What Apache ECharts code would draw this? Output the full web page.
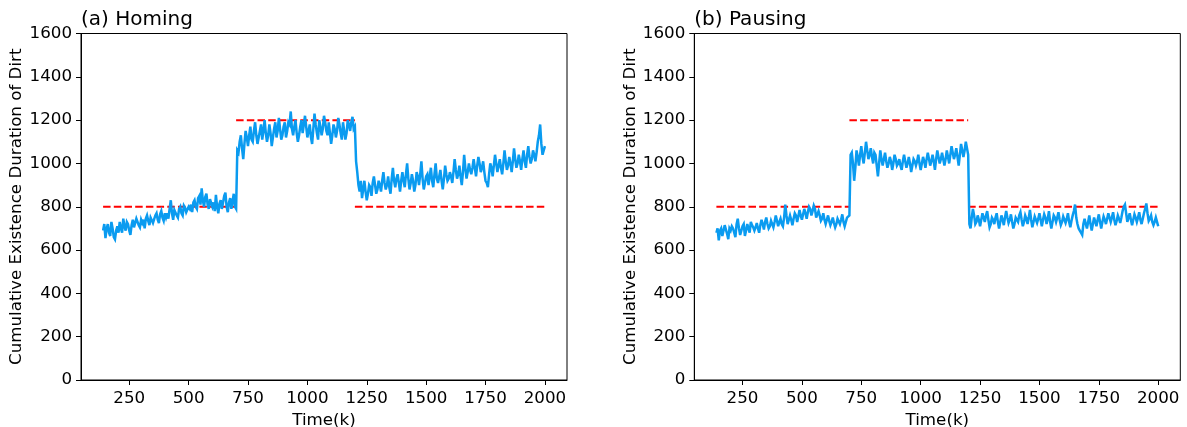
<!DOCTYPE html>
<html>
<head>
<meta charset="utf-8">
<script src="https://cdn.jsdelivr.net/npm/echarts@6/dist/echarts.min.js"></script>
<style>
html,body{margin:0;padding:0;background:#fff;}
#chart{width:1187px;height:427px;}
</style>
</head>
<body>
<div id="chart"></div>
<script>
// ---- data ----
const panelTitles = ['(a) Homing', '(b) Pausing'];
const xTickValues = [250, 500, 750, 1000, 1250, 1500, 1750, 2000];
const yTicks = [0, 200, 400, 600, 800, 1000, 1200, 1400, 1600];
const xName = 'Time(k)';
const yName = 'Cumulative Existence Duration of Dirt';
// sampling grid of the time axis: 140k ... 2000k every 5k
const timeStart = 140, timeStep = 5;

const homing = [
  690,720,655,700,720,680,665,730,700,660,650,690,710,
  680,730,700,680,745,710,690,730,720,690,670,715,740,705,700,745,750,715,705,740,
  725,740,700,745,760,735,715,750,750,725,720,760,770,740,725,765,780,750,735,770,
  750,770,745,790,830,770,740,785,790,760,750,790,800,770,760,805,795,775,770,800,
  790,810,775,820,830,800,790,840,850,810,885,830,800,845,860,810,790,835,840,800,
  820,780,855,800,770,815,830,790,790,850,865,800,775,820,840,790,790,860,800,790,
  1060,1050,1100,1130,1070,1020,1090,1150,1120,1080,1130,1170,1110,1100,1150,1190,1130,1090,1120,1150,
  1180,1110,1150,1200,1140,1100,1130,1180,1140,1080,1120,1160,1190,1120,1150,1210,1160,1110,1130,1170,
  1190,1120,1150,1190,1180,1240,1160,1130,1170,1200,1140,1100,1130,1170,1200,1140,1180,1220,1170,1120,
  1150,1180,1120,1090,1160,1230,1180,1140,1110,1200,1170,1130,1160,1220,1190,1150,1130,1190,1140,1090,
  1130,1180,1160,1120,1150,1210,1180,1140,1110,1190,1150,1110,1140,1200,1180,1150,1190,1215,1160,1170,
  1010,960,900,870,920,840,880,920,870,830,860,900,890,850,910,940,900,860,880,920,
  900,870,920,960,910,880,900,940,890,860,930,980,920,890,930,950,910,870,920,960,
  920,890,950,1000,930,880,910,950,920,870,900,960,940,900,950,1010,930,880,910,940,
  950,900,940,980,920,890,950,1000,930,910,940,970,920,880,930,990,950,920,930,960,
  940,910,960,1020,970,930,950,990,940,900,960,1040,980,930,960,1000,970,950,980,1020,
  980,940,990,1030,1000,960,980,1010,960,920,910,890,950,1000,980,940,990,1040,1000,960,
  990,1020,980,950,1000,1060,1010,970,990,1030,1000,960,1010,1070,1020,980,1000,1040,1010,970,
  1020,1060,1010,980,1040,1080,1030,1000,1020,1060,1040,1010,1050,1100,1130,1180,1090,1040,1060,1080
];

const pausing = [
  680,700,645,690,700,665,660,715,710,675,650,700,690,
  710,700,680,660,720,745,700,670,690,710,720,665,690,720,700,680,730,715,705,690,
  705,725,700,680,715,740,720,695,730,750,720,700,710,735,740,705,730,760,735,710,
  730,745,720,710,750,810,760,720,740,760,740,715,745,770,760,730,755,785,760,740,
  765,790,770,745,775,800,790,760,780,805,790,750,765,780,760,735,745,770,740,720,
  740,760,735,715,730,750,725,705,720,745,740,720,740,765,730,710,730,750,745,760,
  1040,1050,1000,920,980,1060,1030,990,1040,1080,1030,1000,1050,1100,1060,1020,1040,1070,1030,1000,
  1050,1040,990,940,1000,1060,1020,990,1020,1050,1010,980,1000,1030,1010,970,1000,1040,1020,990,
  1000,1020,990,970,1010,1040,1010,980,1000,1030,1000,960,990,1020,1010,990,1010,1040,1000,970,
  1000,1030,1010,980,1020,1050,1020,990,1010,1040,1010,970,1020,1060,1030,1000,1020,1050,1020,990,
  1020,1060,1030,1000,1040,1080,1050,1020,1040,1070,1030,990,1040,1090,1060,1030,1060,1100,1070,1040,
  720,700,750,790,760,720,730,760,740,710,740,770,750,730,760,780,740,705,720,750,
  740,720,750,770,730,700,730,760,740,715,750,780,750,725,740,765,730,700,720,750,
  750,730,760,775,740,710,730,760,745,720,750,785,740,705,730,755,750,725,745,770,
  740,710,740,765,750,720,745,780,730,700,730,760,750,730,750,775,740,715,730,755,
  740,725,745,770,730,705,735,760,780,810,750,720,700,690,680,670,720,745,720,700,
  730,760,720,690,720,750,730,710,740,765,730,700,730,755,740,720,745,770,750,730,
  750,775,740,715,735,760,745,725,750,780,800,810,770,730,750,770,740,715,740,765,
  750,730,750,775,740,720,745,770,790,815,770,735,745,760,730,715,730,750,730,710
];

// reference levels: [from time, to time, level]
const refLevels = [[140, 700, 800], [700, 1200, 1200], [1200, 2000, 800]];

// ---- build chart ----
const panels = [homing, pausing];
const FONT = 'DejaVu Sans';
const lefts = [81, 694.3];
const gw = 486, gtop = 33.5, gh = 346.5;

const option = {
  animation: false,
  backgroundColor: '#fff',
  textStyle: {fontFamily: FONT, color: '#000'},
  title: panelTitles.map((t, i) => ({
    text: t, left: lefts[i], top: 10, padding: 0,
    textStyle: {fontFamily: FONT, fontSize: 20, fontWeight: 'normal', color: '#000'}
  })),
  grid: lefts.map(l => ({
    left: l, top: gtop, width: gw, height: gh,
    outerBoundsMode: 'none', containLabel: false,
    show: true, borderColor: '#000', borderWidth: 1, backgroundColor: 'transparent'
  })),
  xAxis: lefts.map((_, i) => ({
    type: 'value', gridIndex: i, min: 47, max: 2093,
    name: xName, nameLocation: 'middle', nameGap: 28,
    nameTextStyle: {fontFamily: FONT, fontSize: 16.7, color: '#000'},
    axisLine: {show: true, onZero: false, lineStyle: {color: '#000', width: 1}},
    axisTick: {show: true, inside: false, length: 5, customValues: xTickValues, lineStyle: {color: '#000', width: 1}},
    axisLabel: {show: true, margin: 10, customValues: xTickValues, formatter: v => String(v),
      fontFamily: FONT, fontSize: 16.7, color: '#000'},
    splitLine: {show: false}
  })),
  yAxis: lefts.map((_, i) => ({
    type: 'value', gridIndex: i, min: yTicks[0], max: yTicks[yTicks.length - 1], interval: 200,
    name: yName, nameLocation: 'middle', nameGap: 47, nameRotate: 90,
    nameTextStyle: {fontFamily: FONT, fontSize: 16.7, color: '#000'},
    axisLine: {show: true, onZero: false, lineStyle: {color: '#000', width: 1}},
    axisTick: {show: true, inside: false, length: 5, lineStyle: {color: '#000', width: 1}},
    axisLabel: {show: true, margin: 9, formatter: v => String(v),
      fontFamily: FONT, fontSize: 16.7, color: '#000'},
    splitLine: {show: false}
  })),
  series: []
};

panels.forEach((vals, p) => {
  refLevels.forEach(r => {
    option.series.push({
      type: 'line', xAxisIndex: p, yAxisIndex: p, symbol: 'none', z: 2,
      data: [[r[0], r[2]], [r[1], r[2]]],
      lineStyle: {color: '#ff0000', width: 2, type: [7.5, 3.2]},
      silent: true
    });
  });
  option.series.push({
    type: 'line', xAxisIndex: p, yAxisIndex: p, symbol: 'none', z: 3, sampling: null,
    data: vals.map((v, i) => [timeStart + timeStep * i, v]),
    lineStyle: {color: '#0a9bf0', width: 2.5, join: 'miter', miterLimit: 4},
    silent: true
  });
});

const chart = echarts.init(document.getElementById('chart'), null, {renderer: 'canvas'});
chart.setOption(option);
</script>
</body>
</html>
